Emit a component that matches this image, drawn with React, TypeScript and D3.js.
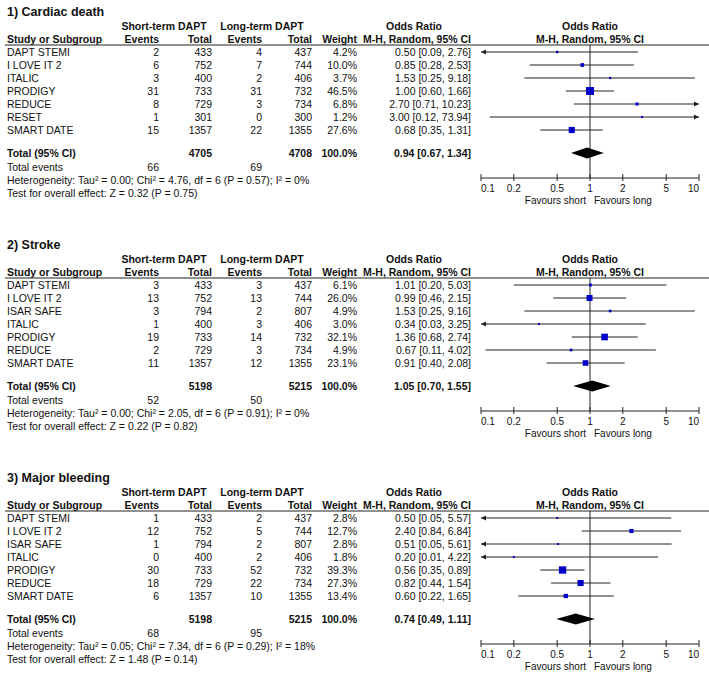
import React from "react";
import * as d3 from "d3";

// ---------- Data ----------
const titles = ["1) Cardiac death", "2) Stroke", "3) Major bleeding"];

const studies1 = ["DAPT STEMI", "I LOVE IT 2", "ITALIC", "PRODIGY", "REDUCE", "RESET", "SMART DATE"];
const shortEv1 = [2, 6, 3, 31, 8, 1, 15];
const shortTot1 = [433, 752, 400, 733, 729, 301, 1357];
const longEv1 = [4, 7, 2, 31, 3, 0, 22];
const longTot1 = [437, 744, 406, 732, 734, 300, 1355];
const weight1 = [4.2, 10.0, 3.7, 46.5, 6.8, 1.2, 27.6];
const or1 = [0.5, 0.85, 1.53, 1.0, 2.7, 3.0, 0.68];
const lo1 = [0.09, 0.28, 0.25, 0.6, 0.71, 0.12, 0.35];
const hi1 = [2.76, 2.53, 9.18, 1.66, 10.23, 73.94, 1.31];

const studies2 = ["DAPT STEMI", "I LOVE IT 2", "ISAR SAFE", "ITALIC", "PRODIGY", "REDUCE", "SMART DATE"];
const shortEv2 = [3, 13, 3, 1, 19, 2, 11];
const shortTot2 = [433, 752, 794, 400, 733, 729, 1357];
const longEv2 = [3, 13, 2, 3, 14, 3, 12];
const longTot2 = [437, 744, 807, 406, 732, 734, 1355];
const weight2 = [6.1, 26.0, 4.9, 3.0, 32.1, 4.9, 23.1];
const or2 = [1.01, 0.99, 1.53, 0.34, 1.36, 0.67, 0.91];
const lo2 = [0.2, 0.46, 0.25, 0.03, 0.68, 0.11, 0.4];
const hi2 = [5.03, 2.15, 9.16, 3.25, 2.74, 4.02, 2.08];

const studies3 = ["DAPT STEMI", "I LOVE IT 2", "ISAR SAFE", "ITALIC", "PRODIGY", "REDUCE", "SMART DATE"];
const shortEv3 = [1, 12, 1, 0, 30, 18, 6];
const shortTot3 = [433, 752, 794, 400, 733, 729, 1357];
const longEv3 = [2, 5, 2, 2, 52, 22, 10];
const longTot3 = [437, 744, 807, 406, 732, 734, 1355];
const weight3 = [2.8, 12.7, 2.8, 1.8, 39.3, 27.3, 13.4];
const or3 = [0.5, 2.4, 0.51, 0.2, 0.56, 0.82, 0.6];
const lo3 = [0.05, 0.84, 0.05, 0.01, 0.35, 0.44, 0.22];
const hi3 = [5.57, 6.84, 5.61, 4.22, 0.89, 1.54, 1.65];

const totalShortN = [4705, 5198, 5198];
const totalLongN = [4708, 5215, 5215];
const totalOR = [0.94, 1.05, 0.74];
const totalLo = [0.67, 0.7, 0.49];
const totalHi = [1.34, 1.55, 1.11];
const totalShortEv = [66, 52, 68];
const totalLongEv = [69, 50, 95];

const hetTau2 = ["0.00", "0.00", "0.05"];
const hetChi2 = ["4.76", "2.05", "7.34"];
const hetDf = [6, 6, 6];
const hetP = ["0.57", "0.91", "0.29"];
const hetI2 = ["0%", "0%", "18%"];
const zVal = ["0.32", "0.22", "1.48"];
const zP = ["0.75", "0.82", "0.14"];

const axisTicks = [0.1, 0.2, 0.5, 1, 2, 5, 10];
const axisTickLabels = ["0.1", "0.2", "0.5", "1", "2", "5", "10"];

const panels = [
  { studies: studies1, se: shortEv1, st: shortTot1, le: longEv1, lt: longTot1, w: weight1, or: or1, lo: lo1, hi: hi1 },
  { studies: studies2, se: shortEv2, st: shortTot2, le: longEv2, lt: longTot2, w: weight2, or: or2, lo: lo2, hi: hi2 },
  { studies: studies3, se: shortEv3, st: shortTot3, le: longEv3, lt: longTot3, w: weight3, or: or3, lo: lo3, hi: hi3 },
];

const panelOffsets = [0, 233, 466];

// ---------- Layout ----------
const W = 709;
const H = 685;
const X_LABEL = 7;
const X_SE = 159;
const X_ST = 212;
const X_LE = 262;
const X_LT = 312;
const X_W = 357;
const X_OR = 471;
const X_ORH = 414;
const X_SHORT_HDR = 164;
const X_LONG_HDR = 262;
const FOREST_L = 481;
const FOREST_R = 699;

const ROW0 = 52;
const ROWH = 13;
const Y_TITLE = 12;
const Y_H1 = 26;
const Y_H2 = 39;
const Y_LINE = 45;
const Y_TOTAL = 153;
const Y_TEV = 167;
const Y_HET = 180;
const Y_TEST = 193;
const Y_AXIS = 178;

const BLUE = "#0000c8";
const LINE = "#222";
const FONT = "'Liberation Sans', Arial, sans-serif";

const f2 = d3.format(".2f");
const f1 = d3.format(".1f");

const x = d3.scaleLog().domain([0.1, 10]).range([FOREST_L, FOREST_R]);

const T = (props: any) => (
  <text dy="0.35em" fontFamily={FONT} fontSize={10.5} fill="#111" {...props} />
);
const B = (props: any) => <T fontWeight="bold" {...props} />;

function ciString(o: number, l: number, h: number) {
  return `${f2(o)} [${f2(l)}, ${f2(h)}]`;
}

function Panel({ idx }: { idx: number }) {
  const p = panels[idx];
  const oy = panelOffsets[idx];
  const rowY = (i: number) => ROW0 + ROWH * i;
  const x1 = x(1);
  return (
    <g transform={`translate(0,${oy})`}>
      <text x={X_LABEL} y={Y_TITLE} dy="0.35em" fontFamily={FONT} fontSize={12.5} fontWeight="bold" fill="#111">
        {titles[idx]}
      </text>
      {/* headers */}
      <B x={X_SHORT_HDR} y={Y_H1} textAnchor="middle">Short-term DAPT</B>
      <B x={X_LONG_HDR} y={Y_H1} textAnchor="middle">Long-term DAPT</B>
      <B x={X_ORH} y={Y_H1} textAnchor="middle">Odds Ratio</B>
      <B x={x1} y={Y_H1} textAnchor="middle">Odds Ratio</B>
      <B x={X_LABEL} y={Y_H2}>Study or Subgroup</B>
      <B x={X_SE} y={Y_H2} textAnchor="end">Events</B>
      <B x={X_ST} y={Y_H2} textAnchor="end">Total</B>
      <B x={X_LE} y={Y_H2} textAnchor="end">Events</B>
      <B x={X_LT} y={Y_H2} textAnchor="end">Total</B>
      <B x={X_W} y={Y_H2} textAnchor="end">Weight</B>
      <B x={X_OR} y={Y_H2} textAnchor="end">M-H, Random, 95% CI</B>
      <B x={x1} y={Y_H2} textAnchor="middle">M-H, Random, 95% CI</B>
      <line x1={5} x2={W} y1={Y_LINE} y2={Y_LINE} stroke={LINE} strokeWidth={1} />

      {/* line of no effect */}
      <line x1={x1} x2={x1} y1={Y_LINE} y2={Y_AXIS} stroke={LINE} strokeWidth={1} />

      {/* study rows */}
      {p.studies.map((s, i) => {
        const y = rowY(i);
        const lo = Math.max(p.lo[i], 0.1);
        const hi = Math.min(p.hi[i], 10);
        const side = Math.max(2, Math.sqrt(p.w[i]) * 1.17);
        const xl = x(lo);
        const xr = x(hi);
        return (
          <g key={s}>
            <T x={X_LABEL} y={y}>{s}</T>
            <T x={X_SE} y={y} textAnchor="end">{p.se[i]}</T>
            <T x={X_ST} y={y} textAnchor="end">{p.st[i]}</T>
            <T x={X_LE} y={y} textAnchor="end">{p.le[i]}</T>
            <T x={X_LT} y={y} textAnchor="end">{p.lt[i]}</T>
            <T x={X_W} y={y} textAnchor="end">{f1(p.w[i])}%</T>
            <T x={X_OR} y={y} textAnchor="end">{ciString(p.or[i], p.lo[i], p.hi[i])}</T>
            <line x1={xl} x2={xr} y1={y} y2={y} stroke={LINE} strokeWidth={1} />
            {p.lo[i] < 0.1 && (
              <path d={`M${xl},${y} L${xl + 5},${y - 2.5} L${xl + 5},${y + 2.5} Z`} fill={LINE} />
            )}
            {p.hi[i] > 10 && (
              <path d={`M${xr},${y} L${xr - 5},${y - 2.5} L${xr - 5},${y + 2.5} Z`} fill={LINE} />
            )}
            <rect x={x(p.or[i]) - side / 2} y={y - side / 2} width={side} height={side} fill={BLUE} />
          </g>
        );
      })}

      {/* totals */}
      <B x={X_LABEL} y={Y_TOTAL}>Total (95% CI)</B>
      <B x={X_ST} y={Y_TOTAL} textAnchor="end">{totalShortN[idx]}</B>
      <B x={X_LT} y={Y_TOTAL} textAnchor="end">{totalLongN[idx]}</B>
      <B x={X_W} y={Y_TOTAL} textAnchor="end">100.0%</B>
      <B x={X_OR} y={Y_TOTAL} textAnchor="end">{ciString(totalOR[idx], totalLo[idx], totalHi[idx])}</B>
      <path
        d={`M${x(totalLo[idx])},${Y_TOTAL} L${x(totalOR[idx])},${Y_TOTAL - 5.5} L${x(totalHi[idx])},${Y_TOTAL} L${x(totalOR[idx])},${Y_TOTAL + 5.5} Z`}
        fill="#000"
      />
      <T x={X_LABEL} y={Y_TEV}>Total events</T>
      <T x={X_SE} y={Y_TEV} textAnchor="end">{totalShortEv[idx]}</T>
      <T x={X_LE} y={Y_TEV} textAnchor="end">{totalLongEv[idx]}</T>
      <T x={X_LABEL} y={Y_HET}>
        {`Heterogeneity: Tau² = ${hetTau2[idx]}; Chi² = ${hetChi2[idx]}, df = ${hetDf[idx]} (P = ${hetP[idx]}); I² = ${hetI2[idx]}`}
      </T>
      <T x={X_LABEL} y={Y_TEST}>{`Test for overall effect: Z = ${zVal[idx]} (P = ${zP[idx]})`}</T>

      {/* axis */}
      <line x1={FOREST_L} x2={FOREST_R} y1={Y_AXIS} y2={Y_AXIS} stroke={LINE} strokeWidth={1} />
      {axisTicks.map((t, i) => (
        <g key={t}>
          <line x1={x(t)} x2={x(t)} y1={Y_AXIS - 4} y2={Y_AXIS + 3} stroke={LINE} strokeWidth={1} />
          <T
            x={x(t)}
            y={Y_AXIS + 10}
            fontSize={10}
            textAnchor={i === 0 ? "start" : i === axisTicks.length - 1 ? "end" : "middle"}
          >
            {axisTickLabels[i]}
          </T>
        </g>
      ))}
      <T x={x1 - 4} y={Y_AXIS + 22} fontSize={10} textAnchor="end">Favours short</T>
      <T x={x1 + 4} y={Y_AXIS + 22} fontSize={10} textAnchor="start">Favours long</T>
    </g>
  );
}

export default function App() {
  return (
    <svg
      width={W}
      height={H}
      viewBox={`0 0 ${W} ${H}`}
      style={{ position: "absolute", left: 0, top: 0, background: "#fff" }}
    >
      <rect width={W} height={H} fill="#fff" />
      {panels.map((_, i) => (
        <Panel key={i} idx={i} />
      ))}
    </svg>
  );
}
